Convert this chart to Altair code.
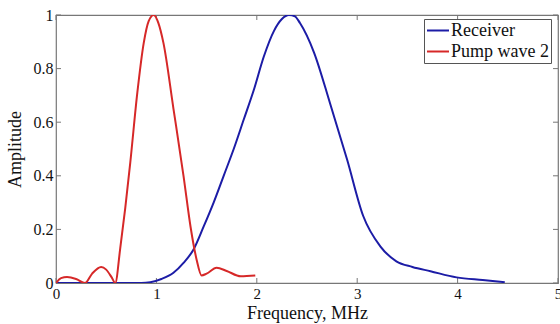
import altair as alt
import pandas as pd

# Receiver spectrum
rx_freq = [0, 0.5, 0.85, 0.94, 1.05, 1.17, 1.27, 1.37, 1.47, 1.57, 1.67, 1.77, 1.87, 1.97, 2.07, 2.17,
           2.25, 2.32, 2.38, 2.43, 2.57, 2.73, 2.90, 3.06, 3.23, 3.39, 3.55, 3.73, 3.99, 4.25, 4.47]
rx_amp = [0, 0, 0, 0.003, 0.015, 0.038, 0.075, 0.125, 0.21, 0.30, 0.40, 0.50, 0.61, 0.72, 0.845, 0.94,
          0.985, 1.0, 0.995, 0.97, 0.86, 0.67, 0.46, 0.25, 0.137, 0.081, 0.06, 0.044, 0.021, 0.011, 0.003]

# Pump wave 2 spectrum
pw_freq = [0, 0.05, 0.11, 0.2, 0.29, 0.36, 0.45, 0.5, 0.556, 0.59, 0.64, 0.69, 0.74, 0.81, 0.874,
           0.923, 0.973, 1.02, 1.07, 1.17, 1.27, 1.34, 1.40, 1.45, 1.5, 1.6, 1.7, 1.84, 1.985]
pw_amp = [0, 0.018, 0.022, 0.015, 0, 0.035, 0.06, 0.05, 0.02, 0, 0.13, 0.28, 0.45, 0.71, 0.896,
          0.977, 1.0, 0.97, 0.896, 0.65, 0.40, 0.21, 0.088, 0.028, 0.035, 0.057, 0.045, 0.025, 0.028]

series_names = ["Receiver", "Pump wave 2"]
series_colors = ["#1c1ca6", "#d62828"]

x_ticks = [0, 1, 2, 3, 4, 5]
y_ticks = [0, 0.2, 0.4, 0.6, 0.8, 1]

W, H = 502, 268
FONT = "Liberation Serif"

df = pd.concat([
    pd.DataFrame({"f": rx_freq, "a": rx_amp, "s": series_names[0], "o": 0}),
    pd.DataFrame({"f": pw_freq, "a": pw_amp, "s": series_names[1], "o": 1}),
])

xs = alt.Scale(domain=[0, 5], nice=False)
ys = alt.Scale(domain=[0, 1], nice=False)

lines = alt.Chart(df).mark_line(strokeWidth=2, interpolate="monotone", clip=True).encode(
    x=alt.X("f:Q", scale=xs,
            axis=alt.Axis(values=x_ticks, format="~g", ticks=False, domain=False, grid=False,
                          labelFlush=False, labelOverlap=False,
                          labelFont=FONT, labelFontSize=15, labelColor="#111", labelPadding=3,
                          title="Frequency, MHz", titleFont=FONT, titleFontSize=18,
                          titleFontWeight="normal", titleColor="#111",
                          titleY=35, titleBaseline="alphabetic")),
    y=alt.Y("a:Q", scale=ys,
            axis=alt.Axis(values=y_ticks, format="~g", ticks=False, domain=False, grid=False,
                          labelFlush=False, labelOverlap=False,
                          labelFont=FONT, labelFontSize=16, labelColor="#111", labelPadding=3,
                          title="Amplitude", titleFont=FONT, titleFontSize=18,
                          titleFontWeight="normal", titleColor="#111",
                          titleX=-41, titleY=H / 2, titleAlign="center", titleBaseline="middle")),
    color=alt.Color("s:N", scale=alt.Scale(domain=series_names, range=series_colors),
                    legend=alt.Legend(title=None, orient="none", legendX=368, legendY=4,
                                      symbolType="stroke", symbolSize=484, symbolStrokeWidth=2,
                                      labelFont=FONT, labelFontSize=18, labelColor="#111",
                                      labelOffset=1, rowPadding=2, clipHeight=19,
                                      padding=2, strokeColor="#555", fillColor="white",
                                      cornerRadius=0)),
    order="o:Q",
    detail="s:N",
)

xt = pd.DataFrame({"f": x_ticks})
yt = pd.DataFrame({"a": y_ticks})
tick_color = "#777"

bottom_ticks = alt.Chart(xt).mark_rule(color=tick_color, strokeWidth=1).encode(
    x=alt.X("f:Q", scale=xs), y=alt.value(H), y2=alt.value(H - 5))
top_ticks = alt.Chart(xt).mark_rule(color=tick_color, strokeWidth=1).encode(
    x=alt.X("f:Q", scale=xs), y=alt.value(0), y2=alt.value(5))
left_ticks = alt.Chart(yt).mark_rule(color=tick_color, strokeWidth=1).encode(
    y=alt.Y("a:Q", scale=ys), x=alt.value(0), x2=alt.value(5))
right_ticks = alt.Chart(yt).mark_rule(color=tick_color, strokeWidth=1).encode(
    y=alt.Y("a:Q", scale=ys), x=alt.value(W), x2=alt.value(W - 5))

chart = alt.layer(bottom_ticks, top_ticks, left_ticks, right_ticks, lines).properties(
    width=W, height=H,
    autosize=alt.AutoSizeParams(type="none"),
    padding={"left": 56, "top": 15, "right": 2, "bottom": 41},
    background="white",
).configure_view(stroke="#777", strokeWidth=1.2)

chart.save("out.html", embed_options={"renderer": "svg", "actions": False})
